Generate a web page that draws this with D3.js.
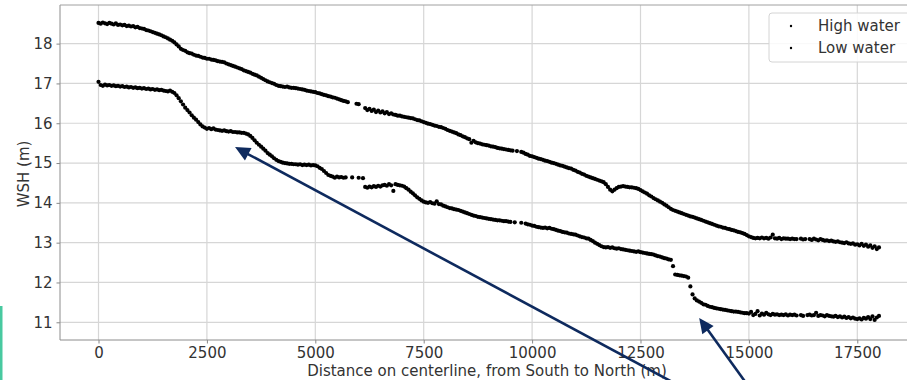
<!DOCTYPE html>
<html>
<head>
<meta charset="utf-8">
<script src="https://cdn.jsdelivr.net/npm/d3@7"></script>
<style>
  body { margin: 0; background: #fff; }
  svg { display: block; font-family: "DejaVu Sans", sans-serif; }
</style>
</head>
<body>
<svg id="chart" width="907" height="380"></svg>
<script>
// water surface height sampled every 50 m along the centerline (null = no point)
const distStep = 50;
const highWater = [
  18.52,18.50,18.53,18.51,18.49,18.52,18.50,18.48,18.51,18.47,18.48,18.46,18.47,18.44,18.45,18.43,18.44,18.41,18.42,18.39,
  18.38,18.37,18.34,18.33,18.31,18.29,18.27,18.25,18.23,18.21,18.18,18.16,18.13,18.10,18.07,18.03,17.98,17.93,17.87,17.84,
  17.82,17.78,17.76,17.75,17.72,17.70,17.69,17.67,17.65,17.64,17.62,17.62,17.60,17.59,17.58,17.56,17.55,17.54,17.53,17.50,
  17.48,17.46,17.44,17.42,17.40,17.38,17.36,17.33,17.31,17.29,17.27,17.24,17.22,17.20,17.17,17.14,17.11,17.08,17.05,17.03,
  17.01,16.99,16.96,16.94,16.93,16.92,16.91,16.92,16.90,16.89,16.89,16.88,16.87,16.86,16.85,16.84,16.82,16.81,16.80,16.79,
  16.78,16.76,16.75,16.73,16.71,16.70,16.68,16.67,16.65,16.64,16.62,16.60,16.58,16.56,16.55,16.53,null,null,null,16.49,
  16.48,null,null,16.38,16.33,16.36,16.31,16.34,16.28,16.32,16.27,16.30,16.25,16.28,16.23,16.25,16.22,16.21,16.19,16.19,
  16.17,16.16,16.15,16.14,16.13,16.12,16.10,16.08,16.07,16.05,16.03,16.01,15.99,15.98,15.96,15.94,15.93,15.91,15.90,15.88,
  15.86,15.83,15.81,15.79,15.77,15.75,15.72,15.70,15.67,15.65,15.62,15.60,15.51,15.56,15.52,15.50,15.49,15.47,15.46,15.45,
  15.44,15.42,15.41,15.40,15.38,15.37,15.36,15.35,15.34,15.33,15.32,15.31,null,15.30,null,15.28,15.26,15.23,15.21,15.18,
  15.17,15.15,15.13,15.11,15.10,15.08,15.06,15.05,15.03,15.01,15.00,14.98,14.96,14.94,14.93,14.91,14.89,14.87,14.86,14.83,
  14.81,14.78,14.76,14.73,14.71,14.68,14.66,14.64,14.62,14.60,14.58,14.56,14.54,14.52,14.47,14.40,14.33,14.29,14.33,14.37,
  14.40,14.41,14.42,14.41,14.40,14.39,14.39,14.38,14.37,14.35,14.32,14.29,14.26,14.23,14.19,14.16,14.12,14.09,14.06,14.03,
  14.00,13.96,13.93,13.89,13.85,13.82,13.80,13.78,13.76,13.74,13.72,13.70,13.68,13.66,13.65,13.63,13.61,13.59,13.57,13.55,
  13.53,13.51,13.49,13.47,13.45,13.43,13.41,13.40,13.38,13.37,13.35,13.34,13.32,13.31,13.29,13.27,13.26,13.24,13.22,13.19,
  13.16,13.14,13.12,13.11,13.12,13.11,13.13,13.11,13.12,13.10,13.13,13.20,13.11,13.10,13.12,13.09,13.11,13.10,13.10,13.09,
  13.10,13.09,13.09,null,13.10,13.08,13.09,null,13.09,13.07,13.10,13.08,13.06,13.09,13.07,13.05,13.06,13.04,13.05,13.03,
  13.02,13.03,13.01,13.00,12.99,13.01,12.98,12.97,12.98,12.95,12.96,12.93,12.97,12.92,12.95,12.90,12.93,12.87,12.91,12.84,
  12.88
];
const lowWater = [
  17.04,16.96,16.94,16.97,16.95,16.96,16.94,16.95,16.93,16.94,16.92,16.93,16.91,16.92,16.90,16.91,16.89,16.90,16.88,16.89,
  16.87,16.88,16.86,16.87,16.85,16.86,16.84,16.85,16.83,16.84,16.82,16.81,16.80,16.82,16.79,16.76,16.70,16.63,16.55,16.47,
  16.39,16.33,16.27,16.20,16.14,16.09,16.03,15.97,15.92,15.89,15.86,15.88,15.85,15.87,15.84,15.83,15.82,15.81,15.82,15.80,
  15.79,15.80,15.78,15.78,15.77,15.77,15.76,15.76,15.74,15.72,15.68,15.63,15.57,15.51,15.46,15.41,15.36,15.31,15.25,15.21,
  15.17,15.12,15.08,15.05,15.03,15.01,15.00,14.99,14.98,14.98,14.97,14.97,14.96,14.97,14.95,14.96,14.95,14.96,14.94,14.95,
  14.94,14.92,14.88,14.85,14.80,14.75,14.70,14.68,14.66,14.63,14.66,14.64,14.65,14.63,14.64,null,null,14.64,null,null,
  14.63,null,14.62,14.40,14.38,14.41,14.39,14.42,14.40,14.43,14.41,14.44,14.45,14.43,14.47,14.44,14.30,14.47,14.45,14.44,
  14.43,14.41,14.37,14.33,14.28,14.24,14.19,14.14,14.10,14.06,14.03,14.01,14.00,14.02,13.99,13.98,14.04,13.97,13.96,13.93,
  13.91,13.89,13.87,13.86,13.84,13.83,13.82,13.80,13.78,13.76,13.74,13.72,13.70,13.68,13.67,13.65,13.64,13.63,13.62,13.61,
  13.60,13.59,13.58,13.57,13.56,13.56,13.55,13.54,13.54,13.53,13.52,null,13.51,null,null,13.50,null,13.48,13.46,13.45,
  13.43,13.42,13.40,13.39,13.38,13.37,13.38,13.36,13.37,13.35,13.34,13.32,13.30,13.29,13.27,13.26,13.25,13.23,13.22,13.21,
  13.20,13.18,13.16,13.14,13.13,13.11,13.10,13.07,13.04,13.00,12.97,12.94,12.91,12.89,12.88,12.89,12.87,12.88,12.86,12.85,
  12.86,12.84,12.83,12.82,12.81,12.80,12.79,12.78,12.77,12.78,12.76,12.75,12.74,12.73,12.72,12.71,12.70,12.68,12.66,12.65,
  12.63,12.61,12.60,12.58,12.57,12.41,12.20,12.19,12.18,12.17,12.16,12.15,12.12,11.90,11.70,11.60,11.55,11.52,11.49,11.45,
  11.44,11.41,11.39,11.38,11.36,11.35,11.34,11.33,11.32,11.31,11.30,11.29,11.28,11.27,11.27,11.26,11.25,11.24,11.23,11.23,
  11.22,11.26,11.18,11.21,11.28,11.17,11.22,11.19,11.24,11.20,11.18,11.21,11.19,11.20,11.18,11.19,11.18,11.20,11.17,11.19,
  11.18,11.19,11.17,null,11.18,11.16,null,11.18,11.19,11.17,11.18,11.24,11.16,11.18,11.17,11.15,11.18,11.16,11.15,11.14,
  11.16,11.13,11.15,11.12,11.14,11.11,11.13,11.10,11.12,11.09,11.08,11.10,11.07,11.11,11.09,11.13,11.08,11.15,11.06,11.12,
  11.16
];
const seriesNames = ["High water", "Low water"];
const xTicks = [0, 2500, 5000, 7500, 10000, 12500, 15000, 17500];
const yTicks = [11, 12, 13, 14, 15, 16, 17, 18];
// annotation arrows, [distance, WSH]
const arrowTails = [[13234, 9.5], [14918, 9.5]];
const arrowTips = [[3149, 15.40], [13854, 11.11]];

const svg = d3.select("#chart");
const W = 907, H = 380;
const plot = { left: 60, top: 5, right: 918, bottom: 340 };

const x = d3.scaleLinear().domain([-888, 18900]).range([plot.left, plot.right]);
const y = d3.scaleLinear().domain([10.555, 18.97]).range([plot.bottom, plot.top]);

svg.append("rect").attr("width", W).attr("height", H).attr("fill", "#fff");

svg.append("defs").append("clipPath").attr("id", "clip")
  .append("rect")
  .attr("x", plot.left).attr("y", plot.top)
  .attr("width", plot.right - plot.left).attr("height", plot.bottom - plot.top);

// grid
const grid = svg.append("g").attr("stroke", "#d6d6d6").attr("stroke-width", 1.2);
grid.selectAll(".gx").data(xTicks).enter().append("line")
  .attr("x1", d => x(d)).attr("x2", d => x(d))
  .attr("y1", plot.top).attr("y2", plot.bottom);
grid.selectAll(".gy").data(yTicks).enter().append("line")
  .attr("x1", plot.left).attr("x2", plot.right)
  .attr("y1", d => y(d)).attr("y2", d => y(d));

// points
const series = [highWater, lowWater].map(vals =>
  vals.map((v, i) => ({ d: i * distStep, v })).filter(p => p.v !== null));

const pts = svg.append("g").attr("clip-path", "url(#clip)");
series.forEach(s => {
  pts.append("g").selectAll("circle")
    .data(s)
    .enter().append("circle")
    .attr("cx", p => x(p.d))
    .attr("cy", p => y(p.v))
    .attr("r", 2.1)
    .attr("fill", "#000");
});

// axes
const xAxis = svg.append("g")
  .attr("transform", `translate(0,${plot.bottom})`)
  .call(d3.axisBottom(x).tickValues(xTicks).tickSize(3.5).tickPadding(4).tickFormat(d3.format("d")));
const yAxis = svg.append("g")
  .attr("transform", `translate(${plot.left},0)`)
  .call(d3.axisLeft(y).tickValues(yTicks).tickSize(3.5).tickPadding(4).tickFormat(d3.format("d")));

[xAxis, yAxis].forEach(a => {
  a.select(".domain").remove();
  a.selectAll(".tick line").attr("stroke", "#888");
  a.selectAll(".tick text")
    .attr("fill", "#333")
    .style("font-size", "15px")
    .style("font-family", "DejaVu Sans, sans-serif");
});

// spines
svg.append("line").attr("x1", plot.left).attr("x2", plot.left)
  .attr("y1", plot.top).attr("y2", plot.bottom).attr("stroke", "#8c8c8c");
svg.append("line").attr("x1", plot.left).attr("x2", W)
  .attr("y1", plot.bottom).attr("y2", plot.bottom).attr("stroke", "#8c8c8c");
svg.append("line").attr("x1", plot.left).attr("x2", W)
  .attr("y1", plot.top).attr("y2", plot.top).attr("stroke", "#a0a0a0");

// axis labels
svg.append("text")
  .attr("x", (plot.left + plot.right) / 2 - 2)
  .attr("y", 376)
  .attr("text-anchor", "middle")
  .attr("fill", "#333")
  .style("font-size", "15px")
  .text("Distance on centerline, from South to North (m)");

svg.append("text")
  .attr("transform", "translate(29,174) rotate(-90)")
  .attr("text-anchor", "middle")
  .attr("fill", "#333")
  .style("font-size", "15px")
  .text("WSH (m)");

// legend
const legend = svg.append("g");
legend.append("rect")
  .attr("x", 769).attr("y", 13).attr("width", 160).attr("height", 49)
  .attr("rx", 3)
  .attr("fill", "#fff").attr("fill-opacity", 0.85)
  .attr("stroke", "#d4d4d4");
seriesNames.forEach((name, i) => {
  legend.append("circle")
    .attr("cx", 791).attr("cy", 26 + i * 22).attr("r", 1.2).attr("fill", "#000");
  legend.append("text")
    .attr("x", 818).attr("y", 31 + i * 22)
    .attr("fill", "#333")
    .style("font-size", "15px")
    .text(name);
});

// annotation arrows
const navy = "#0e2a5e";
const ann = svg.append("g");
arrowTips.forEach((tip, i) => {
  const [x0, y0] = [x(arrowTails[i][0]), y(arrowTails[i][1])];
  const [x1, y1] = [x(tip[0]), y(tip[1])];
  const ang = Math.atan2(y1 - y0, x1 - x0);
  const headLen = 15, headW = 7;
  const bx = x1 - headLen * Math.cos(ang), by = y1 - headLen * Math.sin(ang);
  ann.append("line")
    .attr("x1", x0).attr("y1", y0).attr("x2", bx + 2 * Math.cos(ang)).attr("y2", by + 2 * Math.sin(ang))
    .attr("stroke", navy).attr("stroke-width", 2.6);
  const px = -Math.sin(ang), py = Math.cos(ang);
  ann.append("polygon")
    .attr("points", [[x1, y1], [bx + px * headW, by + py * headW], [bx - px * headW, by - py * headW]]
      .map(p => p.join(",")).join(" "))
    .attr("fill", navy);
});

// green edge bar at bottom-left
svg.append("rect").attr("x", 0).attr("y", 306).attr("width", 2.5).attr("height", 74).attr("fill", "#48c9a0");
</script>
</body>
</html>
